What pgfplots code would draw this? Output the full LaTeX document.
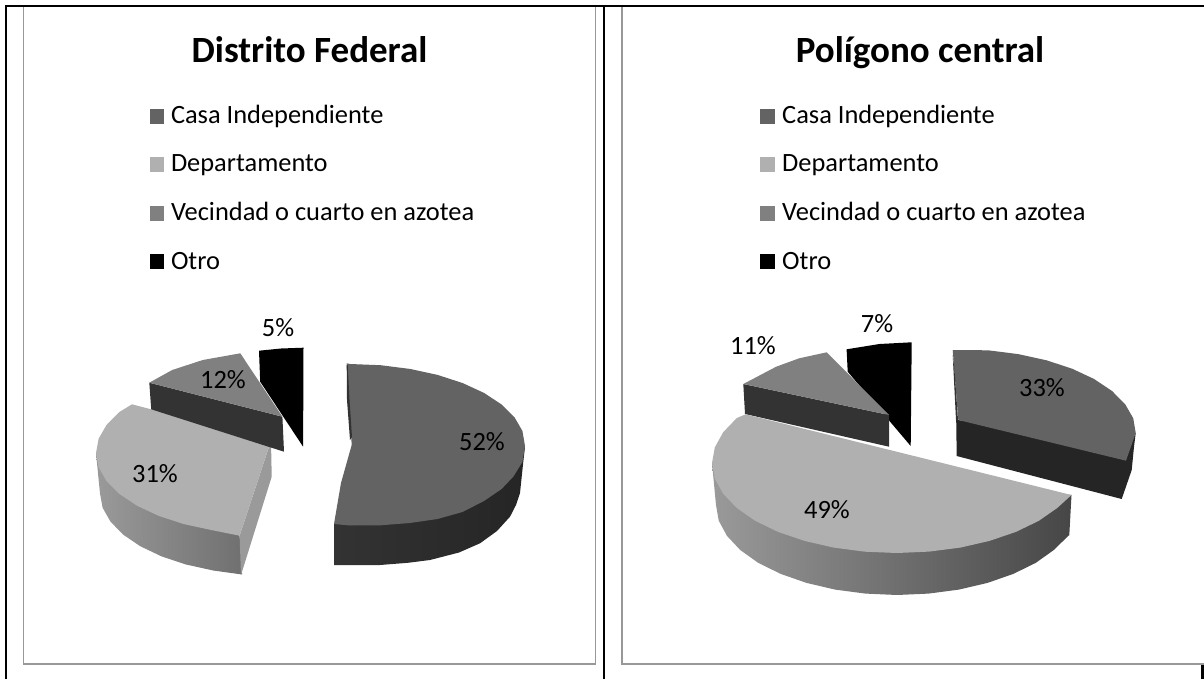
\documentclass[border=0pt]{standalone}
\usepackage{pgfplots}
\pgfplotsset{compat=1.18}
\usepackage{fontspec}
\setmainfont{Carlito}
\definecolor{frame}{HTML}{989898}
\definecolor{casa}{HTML}{636363}
\definecolor{depto}{HTML}{B0B0B0}
\definecolor{vecin}{HTML}{808080}
\definecolor{wallv}{HTML}{333333}
\definecolor{wallc}{HTML}{252525}
\definecolor{sideL}{HTML}{9A9A9A}
\definecolor{sideM}{HTML}{707070}
\definecolor{sideR}{HTML}{464646}
\newcommand{\ttl}[1]{\fontsize{37}{40}\selectfont\bfseries #1}
\newcommand{\leg}[1]{\fontsize{26.4}{28}\selectfont #1}
\newcommand{\pct}[1]{\fontsize{26.4}{28}\selectfont #1}
\begin{document}
\begin{tikzpicture}
\begin{axis}[
    scale only axis, width=1204pt, height=679pt,
    xmin=0, xmax=1204, ymin=0, ymax=679,
    y dir=reverse, hide axis, clip=true,
    every axis plot/.append style={no marks},
]
\path (axis cs:0,0) rectangle (axis cs:1204,679);
% marcos
\addplot[frame, line width=1.6pt] coordinates {(23.5,6.5) (595.5,6.5) (595.5,664) (23.5,664) (23.5,6.5)};
\addplot[frame, line width=1.6pt] coordinates {(1204,6.5) (622,6.5) (622,664) (1204,664)};
% tabla
\addplot[black, line width=2pt] coordinates {(6.3,679) (6.3,6) (1204,6)};
\addplot[black, line width=2pt] coordinates {(604,6) (604,679)};
\addplot[black, line width=2.5pt] coordinates {(1202.7,665) (1202.7,679)};

% leyendas
\addplot[fill=casa, draw=none] coordinates {(149.5,109) (163.7,109) (163.7,124) (149.5,124)};
\addplot[fill=depto, draw=none] coordinates {(149.5,157) (163.7,157) (163.7,172) (149.5,172)};
\addplot[fill=vecin, draw=none] coordinates {(149.5,206) (163.7,206) (163.7,221) (149.5,221)};
\addplot[fill=black, draw=none] coordinates {(149.5,254) (163.7,254) (163.7,269) (149.5,269)};
\addplot[fill=casa, draw=none] coordinates {(760,109) (774.6,109) (774.6,124) (760,124)};
\addplot[fill=depto, draw=none] coordinates {(760,157) (774.6,157) (774.6,172) (760,172)};
\addplot[fill=vecin, draw=none] coordinates {(760,206) (774.6,206) (774.6,221) (760,221)};
\addplot[fill=black, draw=none] coordinates {(760,254) (774.6,254) (774.6,269) (760,269)};

% Distrito Federal: 52%
\addplot[draw=none, left color=wallv, right color=wallc] coordinates {
 (334,524) (525,447) (523.3,461.7) (520,493) (516,505) (510,516.7) (497,531) (480,543.3) (459,552.5)
 (430,560) (408,562.8) (380,565) (350,565) (334,565)};
\addplot[fill=casa, draw=none] coordinates {
 (346.7,363.3) (350,364) (380.4,365.2) (409.9,368.9) (437.5,374.9) (462.5,383) (484,392.9) (501.6,404.5)
 (514.5,417.3) (522.4,430.9) (525,446) (522.4,462) (513.3,476.7) (501.6,489) (484,501) (462.5,512)
 (437.5,519) (409.9,523) (380.4,525.3) (350,525.5) (334,524) (341,483) (351.7,445)};
\addplot[fill=wallv, draw=none] coordinates {(346.7,365) (347,400) (350,440) (352,437) (349.5,400) (347.7,365)};
% Distrito Federal: 31%
\addplot[draw=none, left color=sideL, right color=sideM] coordinates {
 (96,453) (100,493.5) (102.6,507.7) (110.4,521.5) (123,534.5) (140.2,546.2) (161.4,556.3) (186,564.5)
 (213.2,570.5) (242.1,574.5) (239.6,535.7)};
\addplot[fill=sideL, draw=none] coordinates {(271,440.7) (239.6,535.7) (241,575) (271.7,476.7)};
\addplot[fill=depto, draw=none] coordinates {
 (132,404.3) (119.4,412) (106.5,425) (98.6,438.8) (96,453) (98.6,467.2) (106.5,481) (119.4,494) (137,505.7)
 (158.5,515.8) (183.5,524) (211.1,530) (239.6,535.7) (271,440.7)};
% Distrito Federal: 5%
\addplot[fill=black, draw=none] coordinates {(259,350.7) (281,348.5) (303.5,347.7) (303.1,446.7) (260.2,381.7)};
% Distrito Federal: 12%
\addplot[fill=wallv, draw=none] coordinates {(149.3,382.7) (282.4,416.7) (284,451.7) (151.2,409.3)};
\addplot[fill=vecin, draw=none] coordinates {(240.3,353.3) (202.8,360) (172.2,370) (149.3,382.7) (282.4,416.7)};

% Poligono central: 33%
\addplot[fill=wallc, draw=none] coordinates {(956.2,420) (1135.7,433) (1134,446.7) (1131.7,470) (1121.7,499) (956.7,456)};
\addplot[fill=casa, draw=none] coordinates {
 (952.7,350) (988.1,350.3) (1018.2,354.1) (1046.5,360.3) (1072.1,368.7) (1094.1,379) (1112,391) (1125.2,404.3)
 (1133.3,418.4) (1135.7,433) (1126,460.7) (958.3,420)};
\addplot[fill=wallv, draw=none] coordinates {(952.7,355) (956,420) (958,420) (954.5,370)};
% Poligono central: 7%
\addplot[fill=black, draw=none] coordinates {(846.6,349.3) (879.5,344) (911.7,342.3) (910.7,446) (847.7,371.7)};
% Poligono central: 11%
\addplot[fill=wallv, draw=none] coordinates {(743.3,384) (889,415) (889,446.7) (745,414)};
\addplot[fill=vecin, draw=none] coordinates {(826.7,352.3) (799.2,358.3) (776.2,366.7) (743.3,384) (889,415)};
% Poligono central: 49%
\addplot[draw=none, left color=sideL, middle color=sideM, right color=sideR] coordinates {
 (712,463) (716,505) (718.7,520.6) (726.9,535.8) (740.2,550) (758.3,562.9) (780.7,573.9) (806.5,582.9)
 (835.1,589.6) (865.5,593.6) (897,595) (928.5,593.6) (958.9,589.6) (987.5,582.9) (1013.3,573.9)
 (1035.7,562.9) (1053.8,550) (1067.1,537) (1069.3,535) (1071.5,495)};
\addplot[fill=depto, draw=none] coordinates {
 (745.6,414.3) (736.8,418) (723.2,432.2) (714.8,447.4) (712,463) (714.8,478.6) (723.2,493.8) (736.8,508)
 (755.3,520.9) (778.1,531.9) (804.5,540.9) (833.7,547.6) (864.9,551.7) (897,553) (929.1,551.6) (960.3,547.6)
 (989.5,540.9) (1015.9,531.9) (1038.7,520.9) (1057.2,508) (1071.5,495)};

% textos
\node[anchor=base] at (axis cs:309.5,63) {\ttl{Distrito Federal}};
\node[anchor=base] at (axis cs:920,63) {\ttl{Polígono central}};
\node[anchor=base west, inner sep=0pt] at (axis cs:170.8,124) {\leg{Casa Independiente}};
\node[anchor=base west, inner sep=0pt] at (axis cs:170.8,172) {\leg{Departamento}};
\node[anchor=base west, inner sep=0pt] at (axis cs:170.8,221) {\leg{Vecindad o cuarto en azotea}};
\node[anchor=base west, inner sep=0pt] at (axis cs:170.8,269) {\leg{Otro}};
\node[anchor=base west, inner sep=0pt] at (axis cs:782,124) {\leg{Casa Independiente}};
\node[anchor=base west, inner sep=0pt] at (axis cs:782,172) {\leg{Departamento}};
\node[anchor=base west, inner sep=0pt] at (axis cs:782,221) {\leg{Vecindad o cuarto en azotea}};
\node[anchor=base west, inner sep=0pt] at (axis cs:782,269) {\leg{Otro}};
\node[anchor=base] at (axis cs:482,450) {\pct{52\%}};
\node[anchor=base] at (axis cs:155,482) {\pct{31\%}};
\node[anchor=base] at (axis cs:223,388) {\pct{12\%}};
\node[anchor=base] at (axis cs:278,336) {\pct{5\%}};
\node[anchor=base] at (axis cs:1042,396) {\pct{33\%}};
\node[anchor=base] at (axis cs:827,518) {\pct{49\%}};
\node[anchor=base] at (axis cs:753,354) {\pct{11\%}};
\node[anchor=base] at (axis cs:877,332) {\pct{7\%}};
\end{axis}
\end{tikzpicture}
\end{document}
